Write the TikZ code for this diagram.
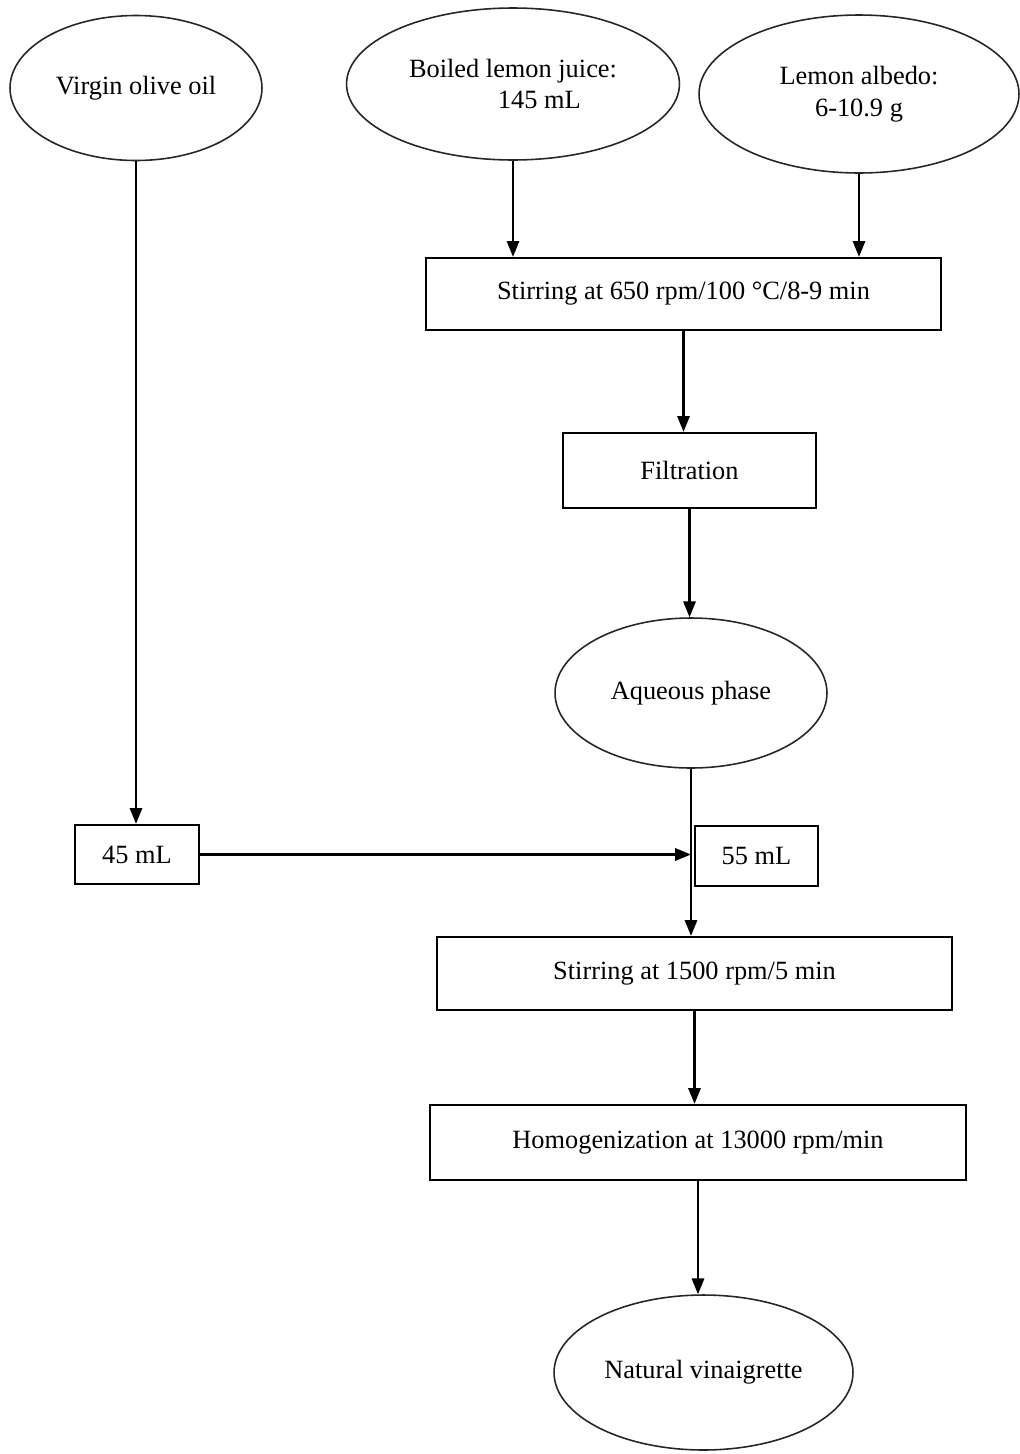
\documentclass[tikz,border=0pt]{standalone}
\usepackage{fontspec}
\setmainfont{Liberation Serif}
\usetikzlibrary{arrows.meta,shapes.geometric}

\tikzset{
  vessel/.style={ellipse, draw=black!85, line width=0.9pt, inner sep=0pt, align=center},
  stage/.style={rectangle, draw, line width=1.3pt, inner sep=0pt},
  feed/.style={-{Triangle[width=7pt,length=9pt]}, line width=1.2pt}
}

\begin{document}
\begin{tikzpicture}[x=0.02cm, y=-0.02cm, font=\fontsize{15}{18}\selectfont]
        \useasboundingbox (0,0) rectangle (1019,1454);

        % Raw materials
        \node[vessel, minimum width=5.04cm, minimum height=2.9cm] (oil) at (136,88) {Virgin olive oil};
        \node[vessel, minimum width=6.66cm, minimum height=3.04cm] (juice) at (513,84) {Boiled lemon juice:\\\hspace*{2em}145 mL};
        \node[vessel, minimum width=6.4cm, minimum height=3.16cm] (albedo) at (859,94) {Lemon albedo:\\6-10.9 g};

        % Extraction steps
        \node[stage, minimum width=10.3cm, minimum height=1.44cm] (stir1) at (683.5,294) {Stirring at 650 rpm/100 °C/8-9 min};
        \node[stage, minimum width=5.06cm, minimum height=1.5cm] (filt) at (689.5,470.5) {Filtration};
        \node[vessel, minimum width=5.44cm, minimum height=3cm] (aqueous) at (691,693) {Aqueous phase};

        % Dosing
        \node[stage, minimum width=2.48cm, minimum height=1.18cm] (ml45) at (137,854.5) {45 mL};
        \node[stage, minimum width=2.46cm, minimum height=1.2cm] (ml55) at (756.5,856) {55 mL};

        % Emulsion steps
        \node[stage, minimum width=10.3cm, minimum height=1.46cm] (stir2) at (694.5,973.5) {Stirring at 1500 rpm/5 min};
        \node[stage, minimum width=10.72cm, minimum height=1.5cm] (homog) at (698,1142.5) {Homogenization at 13000 rpm/min};
        \node[vessel, minimum width=5.98cm, minimum height=3.1cm] (vinaig) at (703.5,1372.5) {Natural vinaigrette};

        % Arcs into the first stirring
        \draw[feed] (juice.south) -- (juice.south |- stir1.north);
        \draw[feed] (albedo.south) -- (albedo.south |- stir1.north);

        % Arcs down the aqueous line
        \draw[feed] (stir1.south) -- (stir1.south |- filt.north);
        \draw[feed] (filt.south) -- (filt.south |- aqueous.north);
        \draw[feed] (aqueous.south) -- (aqueous.south |- stir2.north);

        % Oil line
        \draw[feed] (oil.south) -- (oil.south |- ml45.north);
        \draw[feed] (ml45.east) -- (ml45.east -| aqueous.south);

        % Arcs to the product
        \draw[feed] (stir2.south) -- (stir2.south |- homog.north);
        \draw[feed] (homog.south) -- (homog.south |- vinaig.north);

\end{tikzpicture}
\end{document}
